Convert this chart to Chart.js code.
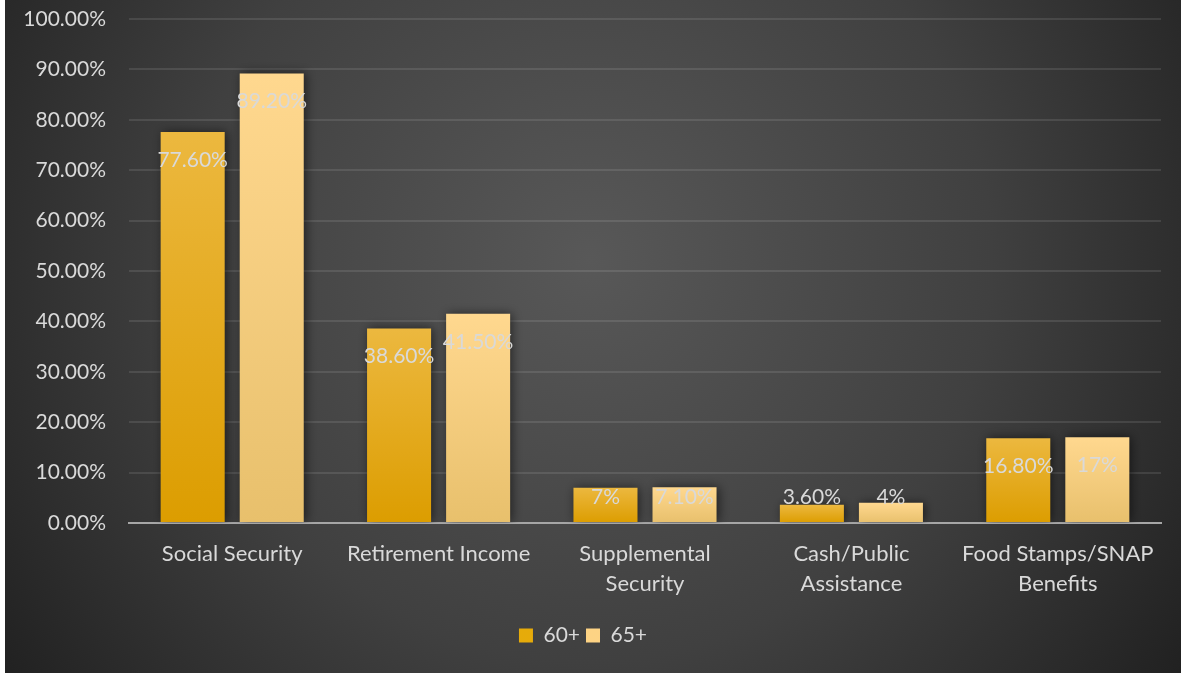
<!DOCTYPE html>
<html>
<head>
<meta charset="utf-8">
<script src="https://cdn.jsdelivr.net/npm/chart.js@4"></script>
<style>
  html, body { margin: 0; padding: 0; background: #fff; }
  #wrap { position: absolute; left: 5px; top: 0; width: 1176px; height: 673px; }
</style>
</head>
<body>
<div id="wrap"><canvas id="incomeBar" width="1176" height="673"></canvas></div>
<script>
// Income sources by age group
const categories = [
    'Social Security',
    'Retirement Income',
    ['Supplemental', 'Security'],
    ['Cash/Public', 'Assistance'],
    ['Food Stamps/SNAP', 'Benefits']
];
const age60 = [77.6, 38.6, 7, 3.6, 16.8];
const age65 = [89.2, 41.5, 7.1, 4, 17];
const yTicks = [0, 10, 20, 30, 40, 50, 60, 70, 80, 90, 100];

const textColor = '#d9d9d9';
const fontFamily = 'Lato, "Open Sans", sans-serif';

// per-bar vertical gradients (top lighter, bottom darker)
const barShades = [
    ['#ecb83f', '#dc9d00'],
    ['#ffd88f', '#e8c06c']
];
const legendColors = ['#e6ab0a', '#fdd384'];

function pct(v) {
    return Number.isInteger(v) ? v + '%' : v.toFixed(2) + '%';
}

function barFill(i) {
    return context => {
        const chart = context.chart;
        const y = chart.scales && chart.scales.y;
        if (!chart.chartArea || !y || context.type !== 'data') return barShades[i][1];
        const top = y.getPixelForValue(context.raw);
        const base = y.getPixelForValue(0);
        const g = chart.ctx.createLinearGradient(0, top, 0, base);
        g.addColorStop(0, barShades[i][0]);
        g.addColorStop(1, barShades[i][1]);
        return g;
    };
}

const backdrop = {
    id: 'backdrop',
    beforeDraw(chart) {
        const { ctx, width, height } = chart;
        const g = ctx.createRadialGradient(585, 260, 0, 585, 260, 730);
        g.addColorStop(0, '#585858');
        g.addColorStop(0.55, '#404040');
        g.addColorStop(1, '#202020');
        ctx.save();
        ctx.fillStyle = g;
        ctx.fillRect(0, 0, width, height);
        ctx.restore();
    }
};

// soft shadow behind the bars
const barShadow = {
    id: 'barShadow',
    beforeDatasetsDraw(chart) {
        const ctx = chart.ctx;
        ctx.save();
        ctx.shadowColor = 'rgba(0,0,0,0.55)';
        ctx.shadowBlur = 10;
        ctx.shadowOffsetX = 2;
    },
    afterDatasetsDraw(chart) {
        chart.ctx.restore();
    }
};

const valueLabels = {
    id: 'valueLabels',
    afterDatasetsDraw(chart) {
        const ctx = chart.ctx;
        ctx.save();
        ctx.font = '21px ' + fontFamily;
        ctx.fillStyle = textColor;
        ctx.textAlign = 'center';
        ctx.textBaseline = 'middle';
        chart.data.datasets.forEach((ds, i) => {
            chart.getDatasetMeta(i).data.forEach((bar, j) => {
                const y = Math.min(bar.y + 28, bar.base - 25);
                ctx.fillText(pct(ds.data[j]), bar.x, y);
            });
        });
        ctx.restore();
    }
};

const ctxBar = document.getElementById('incomeBar').getContext('2d');
new Chart(ctxBar, {
    type: 'bar',
    data: {
        labels: categories,
        datasets: [{
            label: '60+',
            data: age60,
            backgroundColor: barFill(0)
        }, {
            label: '65+',
            data: age65,
            backgroundColor: barFill(1)
        }]
    },
    options: {
        responsive: false,
        animation: false,
        categoryPercentage: 0.766,
        barPercentage: 0.81,
        layout: { padding: { top: 19, right: 20, left: 0, bottom: 17 } },
        plugins: {
            tooltip: { enabled: false },
            legend: {
                position: 'bottom',
                labels: {
                    color: textColor,
                    font: { family: fontFamily, size: 21 },
                    boxWidth: 14,
                    boxHeight: 14,
                    padding: 6,
                    generateLabels(chart) {
                        return chart.data.datasets.map((ds, i) => ({
                            text: ds.label,
                            fillStyle: legendColors[i],
                            strokeStyle: legendColors[i],
                            lineWidth: 0,
                            fontColor: textColor,
                            datasetIndex: i
                        }));
                    }
                }
            }
        },
        scales: {
            x: {
                grid: { display: false, drawTicks: false },
                border: { color: '#a6a6a6', width: 2 },
                ticks: {
                    color: textColor,
                    padding: 16,
                    maxRotation: 0,
                    autoSkip: false,
                    font: { family: fontFamily, size: 22, lineHeight: 1.36 }
                },
                afterFit(scale) { scale.height = 96; }
            },
            y: {
                min: 0,
                max: 100,
                afterBuildTicks(scale) { scale.ticks = yTicks.map(v => ({ value: v })); },
                grid: {
                    drawTicks: false,
                    lineWidth: 2,
                    color: ctx => ctx.tick && ctx.tick.value === 0 ? 'rgba(0,0,0,0)' : 'rgba(255,255,255,0.1)'
                },
                border: { display: false },
                ticks: {
                    color: textColor,
                    padding: 23,
                    font: { family: fontFamily, size: 21 },
                    callback: v => v.toFixed(2) + '%'
                },
                afterFit(scale) {
                    scale.width = 124;
                    scale.paddingTop = 0;
                    scale.paddingBottom = 0;
                }
            }
        }
    },
    plugins: [backdrop, barShadow, valueLabels]
});
</script>
</body>
</html>
